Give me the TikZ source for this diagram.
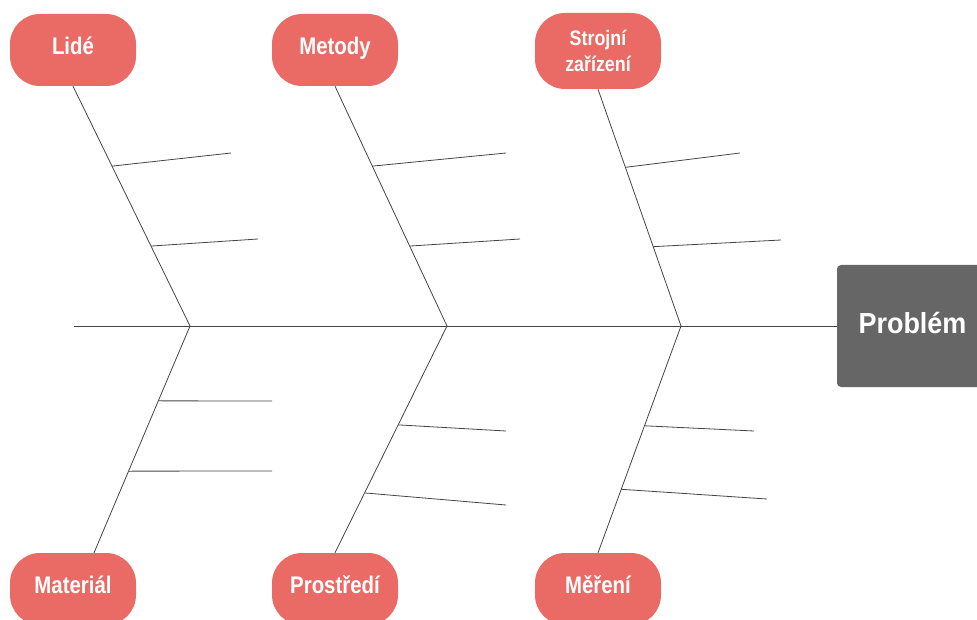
\documentclass[tikz,border=0pt]{standalone}
\usepackage{fontspec}
\newfontfamily\labfont[FakeStretch=0.85]{Liberation Sans}
\newfontfamily\probfont[FakeStretch=0.93]{Liberation Sans}
\usetikzlibrary{calc}
\definecolor{catred}{HTML}{EA6B66}
\definecolor{probgray}{HTML}{666666}
\definecolor{linegray}{HTML}{444444}
\tikzset{
  cat/.style={fill=catred, draw=none, rounded corners=30pt, minimum width=126pt,
    minimum height=72pt, text=white, align=center, inner sep=0pt,
    text height=16pt, text depth=6.5pt,
    font=\labfont\bfseries\fontsize{24}{26}\selectfont},
  catsmall/.style={fill=catred, draw=none, rounded corners=30pt, minimum width=126pt,
    minimum height=76pt, text=white, align=center, inner sep=0pt,
    font=\labfont\bfseries\fontsize{21}{26}\selectfont},
  prob/.style={fill=probgray, draw=none, rounded corners=4pt, minimum width=151pt,
    minimum height=122pt, text=white, inner sep=0pt,
    text height=21pt, text depth=6.2pt,
    font=\probfont\bfseries\fontsize{29}{32}\selectfont},
  bone/.style={draw=linegray, line width=0.8pt}
}
\begin{document}
\begin{tikzpicture}[x=1pt,y=-1pt]
\useasboundingbox (0,0) rectangle (977,620);
% category nodes
\node[cat] (lide) at (73,50) {Lidé};
\node[cat] (metody) at (335,50) {Metody};
\node[catsmall] (stroj) at (598,51) {Strojní\\zařízení};
\node[cat] (mat) at (73,589) {Materiál};
\node[cat] (prost) at (335,589) {Prostředí};
\node[cat] (mer) at (598,589) {Měření};
\node[prob] (prob) at (912.5,326) {Problém};
% spine
\coordinate (tail) at (74,326);
\coordinate (j1) at (190,326);
\coordinate (j2) at (447,326);
\coordinate (j3) at (681,326);
\coordinate (matin) at ($(mat.north)+(21,0)$);
\draw[bone] (tail) -- (prob.west);
% main bones
\draw[bone] (lide.south) -- (j1);
\draw[bone] (metody.south) -- (j2);
\draw[bone] (stroj.south) -- (j3);
\draw[bone] (j1) -- (matin);
\draw[bone] (j2) -- (prost.north);
\draw[bone] (j3) -- (mer.north);
% sub-branch start points
\coordinate (a1) at ($(lide.south)!1/3!(j1)$);
\coordinate (a2) at ($(lide.south)!2/3!(j1)$);
\coordinate (b1) at ($(metody.south)!1/3!(j2)$);
\coordinate (b2) at ($(metody.south)!2/3!(j2)$);
\coordinate (c1) at ($(stroj.south)!0.33!(j3)$);
\coordinate (c2) at ($(stroj.south)!0.665!(j3)$);
\coordinate (d1) at ($(j1)!0.33!(matin)$);
\coordinate (d2) at ($(j1)!0.64!(matin)$);
\coordinate (e1) at ($(j2)!0.436!(prost.north)$);
\coordinate (e2) at ($(j2)!0.736!(prost.north)$);
\coordinate (f1) at ($(j3)!0.44!(mer.north)$);
\coordinate (f2) at ($(j3)!0.72!(mer.north)$);
% sub-branch free ends
\coordinate (a1e) at (231,153);
\coordinate (a2e) at (258,239);
\coordinate (b1e) at (506,153);
\coordinate (b2e) at (520,239);
\coordinate (c1e) at (740,153);
\coordinate (c2e) at (781,240);
\coordinate (d1e) at (272,401);
\coordinate (d2e) at (272,471);
\coordinate (e1e) at (506,431);
\coordinate (e2e) at (506,505);
\coordinate (f1e) at (754,431);
\coordinate (f2e) at (767,499);
\foreach \s in {a1,a2,b1,b2,c1,c2,d1,d2,e1,e2,f1,f2}
  \draw[bone] (\s) -- (\s e);
\end{tikzpicture}
\end{document}
